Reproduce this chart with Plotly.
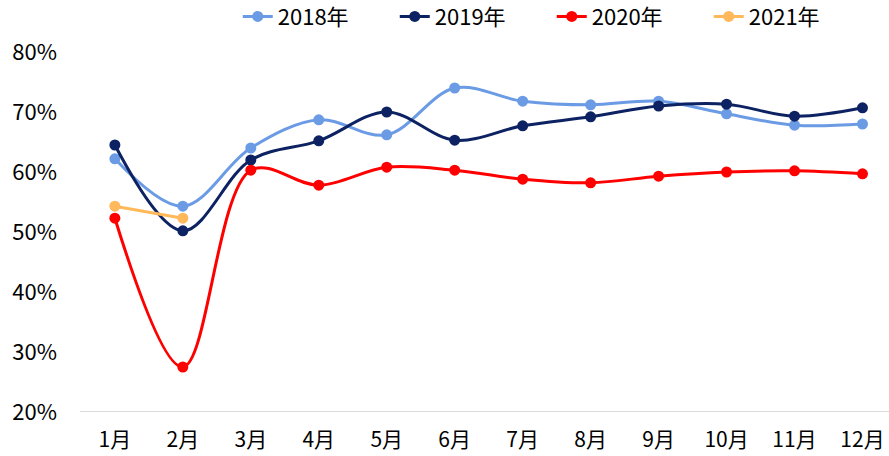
import plotly.graph_objects as go

months = ["1月", "2月", "3月", "4月", "5月", "6月", "7月", "8月", "9月", "10月", "11月", "12月"]
y2018 = [62.2, 54.3, 64.0, 68.7, 66.2, 74.0, 71.8, 71.2, 71.8, 69.7, 67.8, 68.0]
y2019 = [64.5, 50.2, 62.0, 65.2, 70.0, 65.3, 67.7, 69.2, 71.0, 71.3, 69.3, 70.7]
y2020 = [52.3, 27.5, 60.3, 57.8, 60.8, 60.3, 58.8, 58.2, 59.3, 60.0, 60.2, 59.7]
y2021 = [54.3, 52.3]
yticks = [20, 30, 40, 50, 60, 70, 80]

series = [
    ("2018年", y2018, "#6A9BE4"),
    ("2019年", y2019, "#0C2262"),
    ("2020年", y2020, "#FF0000"),
    ("2021年", y2021, "#FFB85A"),
]

fig = go.Figure()
for name, vals, color in series:
    fig.add_trace(go.Scatter(
        x=list(range(len(vals))), y=vals, name=name,
        mode="lines+markers",
        line=dict(color=color, width=3, shape="spline", smoothing=1.0),
        marker=dict(color=color, size=11),
    ))

font = "Noto Sans CJK SC, Microsoft YaHei, sans-serif"
fig.update_layout(
    width=889, height=456,
    margin=dict(l=80, r=0, t=52, b=44, autoexpand=False),
    plot_bgcolor="white", paper_bgcolor="white",
    font=dict(family=font, size=22, color="#000000"),
    showlegend=True,
    legend=dict(orientation="h", x=0.195, xanchor="left", y=1.04, yanchor="bottom",
                font=dict(size=22), entrywidth=112, entrywidthmode="pixels",
                traceorder="normal", bgcolor="rgba(0,0,0,0)"),
    xaxis=dict(
        tickmode="array", tickvals=list(range(12)), ticktext=months,
        range=[-0.513, 11.39], showgrid=False, zeroline=False, automargin=False,
        showline=False, ticks="", tickfont=dict(size=21), ticklabelstandoff=13,
        ticklabeloverflow="allow",
    ),
    yaxis=dict(
        tickmode="array", tickvals=yticks, ticktext=[f"{v}%" for v in yticks],
        range=[20, 80], showgrid=False, zeroline=False, showline=False, automargin=False,
        ticks="", ticklabelstandoff=22, tickfont=dict(size=22),
    ),
)
fig.add_shape(type="line", xref="paper", yref="y", x0=0, x1=1, y0=20, y1=20,
              line=dict(color="#D9D9D9", width=2), layer="below")
fig.write_html("out.html", config={"displayModeBar": False})

with open("out.html", "r", encoding="utf-8") as f:
    html = f.read()
html = html.replace("<head>", "<head><style>html,body{margin:0;padding:0;overflow:hidden;}</style>", 1)
with open("out.html", "w", encoding="utf-8") as f:
    f.write(html)
